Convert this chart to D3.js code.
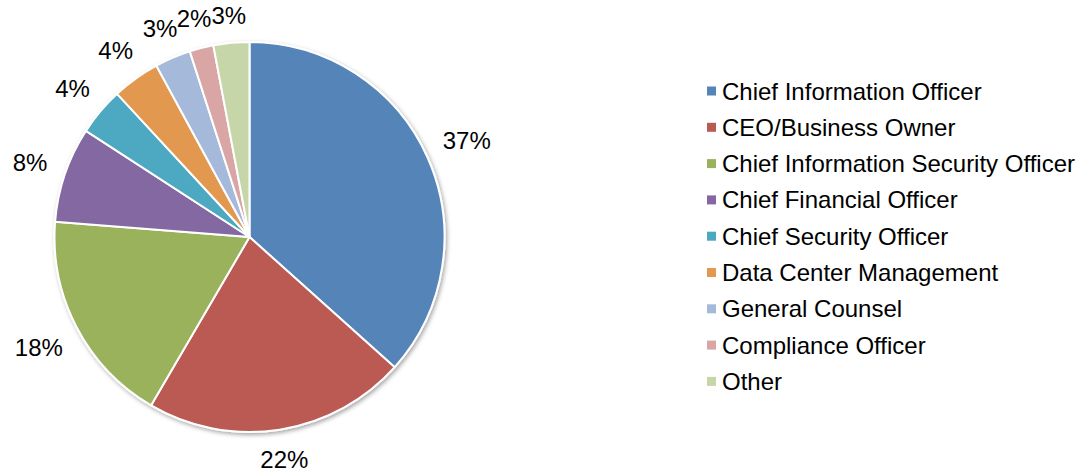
<!DOCTYPE html>
<html>
<head>
<meta charset="utf-8">
<script src="https://cdn.jsdelivr.net/npm/d3@7"></script>
<style>
  html, body { margin: 0; padding: 0; background: #fff; }
  svg { display: block; font-family: "Liberation Sans", Arial, sans-serif; }
</style>
</head>
<body>
<svg id="chart" width="1079" height="468"></svg>
<script>
// Who owns the decision — share of respondents by role
const roles = [
  "Chief Information Officer",
  "CEO/Business Owner",
  "Chief Information Security Officer",
  "Chief Financial Officer",
  "Chief Security Officer",
  "Data Center Management",
  "General Counsel",
  "Compliance Officer",
  "Other"
];
const shares = [37, 22, 18, 8, 4, 4, 3, 2, 3];
const palette = ["#5585B8", "#BA5A53", "#9BB25D", "#8467A1", "#4DA8C1",
                 "#E2984F", "#A5B9DA", "#D9A6A5", "#C7D6A9"];

const svg = d3.select("#chart");
const cx = 249.5, cy = 237, radius = 195;

const defs = svg.append("defs");
const shadow = defs.append("filter").attr("id", "pie-shadow")
  .attr("x", "-10%").attr("y", "-10%").attr("width", "120%").attr("height", "120%");
shadow.append("feDropShadow")
  .attr("dx", 1.5).attr("dy", 2).attr("stdDeviation", 2)
  .attr("flood-color", "#000").attr("flood-opacity", 0.35);

const color = d3.scaleOrdinal().domain(roles).range(palette);

const data = roles.map((r, i) => ({ role: r, value: shares[i] }));
const pie = d3.pie().value(d => d.value).sort(null);
const arcs = pie(data);
const arc = d3.arc().innerRadius(0).outerRadius(radius);

const g = svg.append("g").attr("transform", `translate(${cx},${cy})`);

g.append("g").attr("filter", "url(#pie-shadow)")
  .selectAll("path")
  .data(arcs)
  .join("path")
  .attr("d", arc)
  .attr("fill", d => color(d.data.role))
  .attr("stroke", "#fff")
  .attr("stroke-width", 2)
  .attr("stroke-linejoin", "round");

// Percent labels just outside each slice, pushed out by their glyph box
const gap = 17.5, fontSize = 24;
g.append("g").selectAll("text")
  .data(arcs)
  .join("text")
  .text(d => d.data.value + "%")
  .attr("font-size", fontSize)
  .attr("fill", "#000")
  .attr("text-anchor", "middle")
  .attr("dominant-baseline", "central")
  .each(function (d) {
    const a = (d.startAngle + d.endAngle) / 2;
    const w = this.getComputedTextLength();
    const h = fontSize * 0.72;
    const ext = Math.abs(Math.sin(a)) * w / 2 + Math.abs(Math.cos(a)) * h / 2;
    const r = radius + gap + ext;
    d3.select(this)
      .attr("x", Math.sin(a) * r)
      .attr("y", -Math.cos(a) * r);
  });

// Legend
const legend = svg.append("g").attr("transform", "translate(707,91)");
const rowH = 36.3;
const item = legend.selectAll("g")
  .data(roles)
  .join("g")
  .attr("transform", (d, i) => `translate(0,${i * rowH})`);
item.append("rect")
  .attr("x", 0).attr("y", -4.5)
  .attr("width", 9).attr("height", 9)
  .attr("fill", d => color(d));
item.append("text")
  .attr("x", 15).attr("y", 0)
  .attr("dominant-baseline", "central")
  .attr("font-size", 24)
  .attr("fill", "#000")
  .text(d => d);
</script>
</body>
</html>
